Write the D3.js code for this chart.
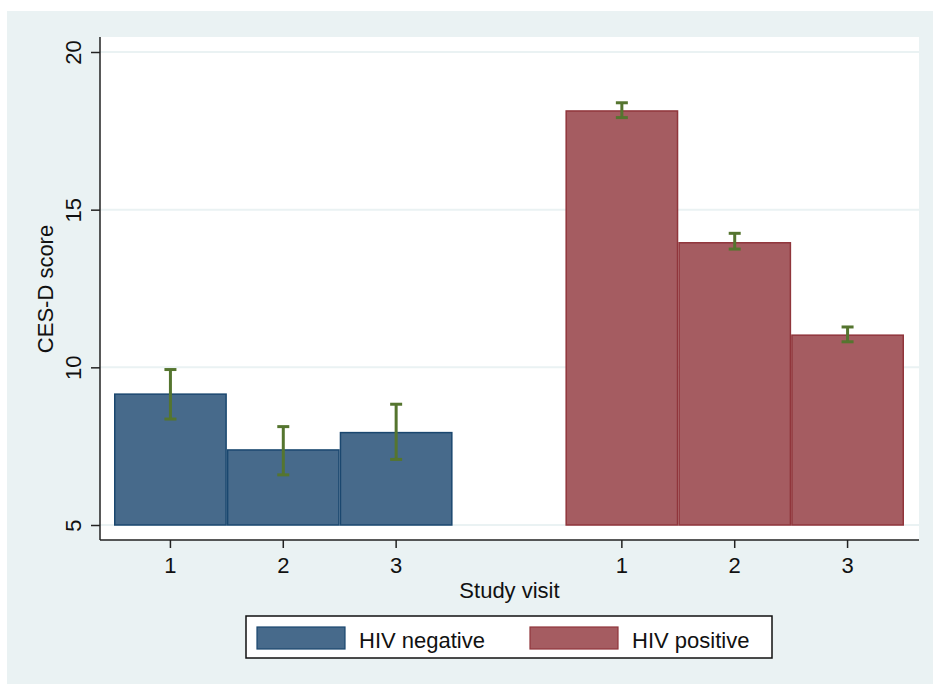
<!DOCTYPE html>
<html>
<head>
<meta charset="utf-8">
<script src="https://cdn.jsdelivr.net/npm/d3@7"></script>
<style>
  body { margin: 0; background: #fff; }
  text { font-family: "Liberation Sans", Arial, sans-serif; fill: #111; }
</style>
</head>
<body>
<div id="chart"></div>
<script>
// values
const visits = ["1", "2", "3"];
const groups = ["HIV negative", "HIV positive"];
const negMean = [9.15, 7.38, 7.93];
const negLo = [8.36, 6.59, 7.08];
const negHi = [9.93, 8.12, 8.83];
const posMean = [18.13, 13.95, 11.02];
const posLo = [17.92, 13.75, 10.81];
const posHi = [18.39, 14.25, 11.28];
const yTicks = [5, 10, 15, 20];

const width = 933, height = 684;
const fills = ["#476a8b", "#a55c61"];
const strokes = ["#1a476f", "#90353b"];
const ciColor = "#55752f";

// slot keys: three visits per group with an empty slot between groups
let slots = [];
let bars = [];
groups.forEach((g, gi) => {
    if (gi > 0) slots.push("gap" + gi);
    const mean = gi == 0 ? negMean : posMean;
    const lo = gi == 0 ? negLo : posLo;
    const hi = gi == 0 ? negHi : posHi;
    visits.forEach((v, vi) => {
        const key = g + "|" + v;
        slots.push(key);
        bars.push({key: key, group: gi, visit: v, mean: mean[vi], lo: lo[vi], hi: hi[vi]});
    });
});

const svg = d3.select("#chart").append("svg")
    .attr("width", width)
    .attr("height", height);

// outer graph region
svg.append("rect")
    .attr("x", 7).attr("y", 11)
    .attr("width", width - 7).attr("height", height - 11)
    .attr("fill", "#eaf2f3");

const plot = {left: 100, right: 919, top: 37, bottom: 540};

svg.append("rect")
    .attr("x", plot.left).attr("y", plot.top)
    .attr("width", plot.right - plot.left).attr("height", plot.bottom - plot.top)
    .attr("fill", "#fff");

const x = d3.scaleBand()
    .domain(slots)
    .range([114, 904])
    .padding(0);

const y = d3.scaleLinear()
    .domain([5, 20])
    .range([525, 52]);

// grid lines
svg.append("g")
    .selectAll("line")
    .data(yTicks)
    .join("line")
    .attr("x1", plot.left).attr("x2", plot.right)
    .attr("y1", d => y(d)).attr("y2", d => y(d))
    .attr("stroke", "#eaf2f3")
    .attr("stroke-width", 2);

// bars
svg.append("g")
    .selectAll("rect")
    .data(bars)
    .join("rect")
    .attr("x", d => x(d.key) + 0.75)
    .attr("y", d => y(d.mean))
    .attr("width", x.bandwidth() - 1.5)
    .attr("height", d => y(5) - y(d.mean))
    .attr("fill", d => fills[d.group])
    .attr("stroke", d => strokes[d.group])
    .attr("stroke-width", 1.5);

// confidence intervals
const ci = svg.append("g")
    .attr("stroke", ciColor)
    .attr("stroke-width", 3)
    .selectAll("g")
    .data(bars)
    .join("g")
    .attr("transform", d => `translate(${x(d.key) + x.bandwidth() / 2},0)`);

ci.append("line")
    .attr("y1", d => y(d.lo)).attr("y2", d => y(d.hi));
ci.append("line")
    .attr("x1", -6).attr("x2", 6)
    .attr("y1", d => y(d.lo)).attr("y2", d => y(d.lo));
ci.append("line")
    .attr("x1", -6).attr("x2", 6)
    .attr("y1", d => y(d.hi)).attr("y2", d => y(d.hi));

// y axis
const yAxis = svg.append("g")
    .attr("transform", `translate(${plot.left},0)`)
    .call(d3.axisLeft(y).tickValues(yTicks).tickSize(9).tickPadding(0).tickFormat(d3.format("d")));
yAxis.select(".domain").attr("d", `M0,${plot.top}V${plot.bottom}`).attr("stroke", "#222").attr("stroke-width", 1.5);
yAxis.selectAll(".tick line").attr("stroke", "#222").attr("stroke-width", 1.5);
yAxis.selectAll(".tick text")
    .attr("x", null).attr("dy", null)
    .attr("transform", "translate(-19,0) rotate(-90)")
    .attr("text-anchor", "middle")
    .style("font-size", "22px")
    .style("font-family", "'Liberation Sans', Arial, sans-serif");

// x axis
const xAxis = svg.append("g")
    .attr("transform", `translate(0,${plot.bottom})`)
    .call(d3.axisBottom(x)
        .tickValues(bars.map(d => d.key))
        .tickSize(8)
        .tickPadding(4)
        .tickFormat(d => d.split("|")[1]));
xAxis.select(".domain").attr("d", `M${plot.left},0H${plot.right}`).attr("stroke", "#222").attr("stroke-width", 1.5);
xAxis.selectAll(".tick line").attr("stroke", "#222").attr("stroke-width", 1.5);
xAxis.selectAll(".tick text")
    .attr("dy", null).attr("y", 33)
    .style("font-size", "22px")
    .style("font-family", "'Liberation Sans', Arial, sans-serif");

// axis titles
svg.append("text")
    .attr("x", (plot.left + plot.right) / 2)
    .attr("y", 598)
    .attr("text-anchor", "middle")
    .style("font-size", "22px")
    .text("Study visit");

svg.append("text")
    .attr("transform", "translate(53,289) rotate(-90)")
    .attr("text-anchor", "middle")
    .style("font-size", "22px")
    .text("CES-D score");

// legend
const legend = svg.append("g");
legend.append("rect")
    .attr("x", 246).attr("y", 616)
    .attr("width", 526).attr("height", 42)
    .attr("fill", "#fff")
    .attr("stroke", "#111")
    .attr("stroke-width", 1.5);

const item = legend.selectAll("g")
    .data(groups)
    .join("g")
    .attr("transform", (d, i) => `translate(${i == 0 ? 257 : 530},627)`);
item.append("rect")
    .attr("width", 88).attr("height", 22)
    .attr("fill", (d, i) => fills[i])
    .attr("stroke", (d, i) => strokes[i])
    .attr("stroke-width", 1.2);
item.append("text")
    .attr("x", 102).attr("y", 21)
    .style("font-size", "22px")
    .text(d => d);
</script>
</body>
</html>
